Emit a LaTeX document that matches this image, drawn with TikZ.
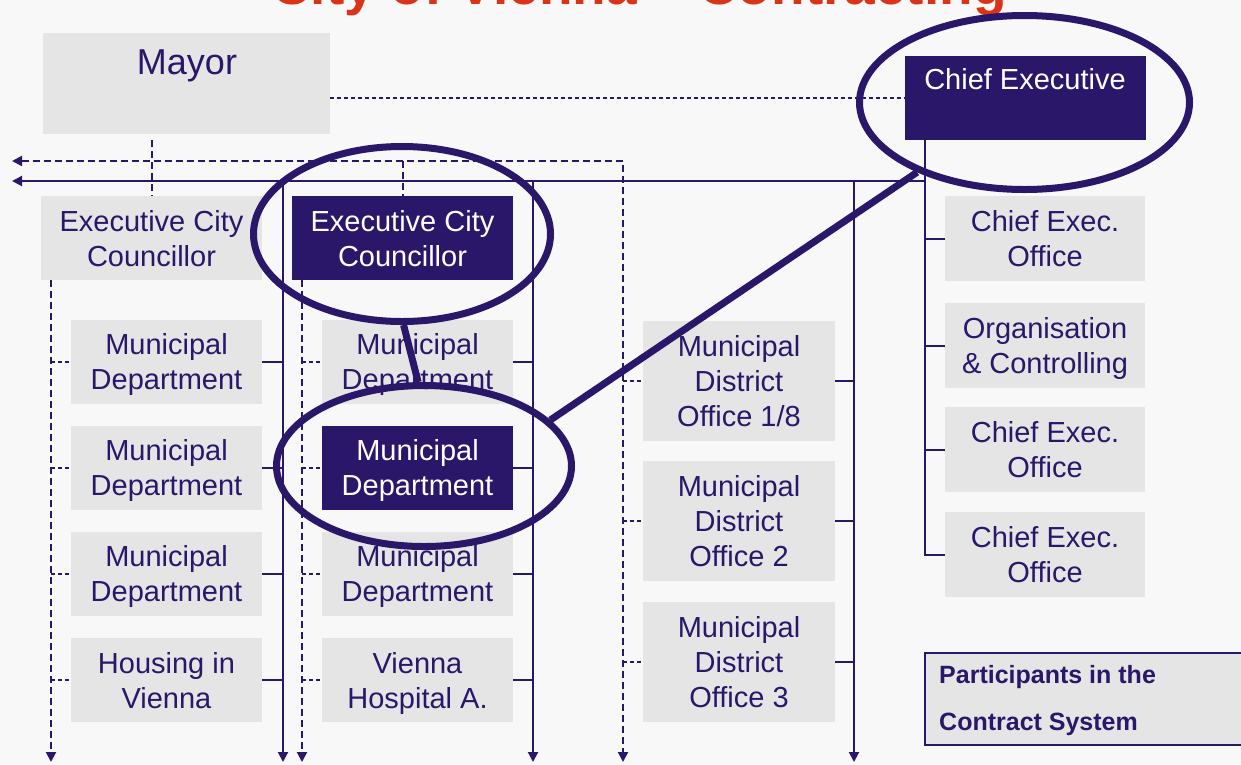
\documentclass[tikz,border=0pt]{standalone}
\usepackage{fontspec}
\setmainfont{Liberation Sans}
\usetikzlibrary{arrows.meta,shapes.geometric}
\definecolor{navy}{RGB}{42,23,106}
\definecolor{boxgrey}{RGB}{229,229,229}
\definecolor{bgcol}{RGB}{248,248,248}
\definecolor{titlered}{RGB}{218,52,24}
\newcommand\bxfont{\fontsize{29pt}{35pt}\selectfont}
\begin{document}
\begin{tikzpicture}[x=1pt,y=-1pt,
  gbox/.style={rectangle, fill=boxgrey, draw=none, inner sep=0pt, text=navy, align=center, font=\bxfont, text depth=0pt},
  nbox/.style={gbox, fill=navy, text=white},
  sol/.style={navy, line width=2pt},
  dsh/.style={navy, line width=2pt, dash pattern=on 7pt off 4pt},
  thindsh/.style={navy, line width=1.5pt, dash pattern=on 4pt off 3pt},
  arr/.style={-{Triangle[length=10pt,width=10pt]}},
  arrboth/.style={{Triangle[length=10pt,width=10pt]}-{Triangle[length=10pt,width=10pt]}},
  oval/.style={ellipse, draw=navy, line width=7pt, inner sep=0pt},
  link/.style={navy, line width=7pt}]
\useasboundingbox (0,0) rectangle (1241,764);
\clip (0,0) rectangle (1241,764);
\fill[bgcol] (0,0) rectangle (1241,764);

% title (cut off at top)
\node[font=\fontsize{55pt}{60pt}\selectfont\bfseries, text=titlered, anchor=base, inner sep=0pt] (title) at (639,4) {City of Vienna – Contracting};

% boxes
\node[gbox, minimum width=287, minimum height=101] (mayor) at (186.5,83.5) {};
\node[text=navy, font=\fontsize{36pt}{42pt}\selectfont, inner sep=0pt] (mayorT) at (187,66) {Mayor};
\node[nbox, minimum width=241, minimum height=84] (ce) at (1025.5,98) {};
\node[text=white, font=\bxfont, inner sep=0pt] (ceT) at (1025,79.5) {Chief Executive};

\node[gbox, minimum width=221, minimum height=84] (ecc1) at (151.5,238) {Executive City\\Councillor};
\node[nbox, minimum width=221, minimum height=84] (ecc2) at (402.5,238) {Executive City\\Councillor};

\node[gbox, minimum width=191, minimum height=84] (m11) at (166.5,361.5) {Municipal\\Department};
\node[gbox, minimum width=191, minimum height=84] (m12) at (166.5,467.5) {Municipal\\Department};
\node[gbox, minimum width=191, minimum height=84] (m13) at (166.5,573.5) {Municipal\\Department};
\node[gbox, minimum width=191, minimum height=84] (m14) at (166.5,680) {Housing in\\Vienna};

\node[gbox, minimum width=191, minimum height=84] (m21) at (417.5,361.5) {Municipal\\Department};
\node[nbox, minimum width=191, minimum height=84] (m22) at (417.5,467.5) {Municipal\\Department};
\node[gbox, minimum width=191, minimum height=84] (m23) at (417.5,573.5) {Municipal\\Department};
\node[gbox, minimum width=191, minimum height=84] (m24) at (417.5,680) {Vienna\\Hospital A.};

\node[gbox, minimum width=192, minimum height=120] (d1) at (739,381) {Municipal\\District\\Office 1/8};
\node[gbox, minimum width=192, minimum height=120] (d2) at (739,521) {Municipal\\District\\Office 2};
\node[gbox, minimum width=192, minimum height=120] (d3) at (739,662) {Municipal\\District\\Office 3};

\node[gbox, minimum width=200, minimum height=85] (c1) at (1045,238.5) {Chief Exec.\\Office};
\node[gbox, minimum width=200, minimum height=85] (c2) at (1045,345.5) {Organisation\\\& Controlling};
\node[gbox, minimum width=200, minimum height=85] (c3) at (1045,449.5) {Chief Exec.\\Office};
\node[gbox, minimum width=200, minimum height=85] (c4) at (1045,554.5) {Chief Exec.\\Office};

\node[rectangle, fill=boxgrey, draw=none, inner sep=0pt, minimum width=340, minimum height=92, anchor=north west] (legend) at (925,653) {};
\draw[sol] (legend.north east) -- (legend.north west) -- (legend.south west) -- (legend.south east);
\node[text=navy, font=\fontsize{25pt}{47pt}\selectfont\bfseries, align=left, anchor=west, inner sep=0pt] (legendT) at (939,701) {Participants in the\\Contract System};

% bus coordinates
\coordinate (dL) at (12,161);
\coordinate (dTop) at (623,161);
\coordinate (dBot) at (623,762);
\coordinate (sL) at (12,181);
\coordinate (sTop) at (925,181);
\coordinate (ceFoot) at (925,140);
\coordinate (mayFoot) at (151.5,140);
\coordinate (aBot) at (51,762);
\coordinate (bTop) at (283,181);
\coordinate (bBot) at (283,762);
\coordinate (cBot) at (302,762);
\coordinate (eTop) at (533,181);
\coordinate (eBot) at (533,762);
\coordinate (fTop) at (854,181);
\coordinate (fBot) at (854,762);

% dashed lines
\draw[thindsh] (mayor.east |- ce.west) -- (ce.west);
\draw[dsh] (mayFoot) -- (ecc1.north);
\draw[dsh, arrboth] (dL) -- (dTop) -- (dBot);
\draw[dsh] (ecc2.north |- dL) -- (ecc2.north);
\draw[dsh, arr] (aBot |- ecc1.south) -- (aBot);
\draw[dsh, arr] (cBot |- ecc2.south) -- (cBot);

% solid lines
\draw[sol, arr] (ceFoot) -- (sTop) -- (sL);
\draw[sol] (sTop) -- (sTop |- c4.west) -- (c4.west);
\foreach \n in {c1,c2,c3} \draw[sol] (sTop |- \n.west) -- (\n.west);
\draw[sol, arr] (bTop) -- (bBot);
\draw[sol, arr] (eTop) -- (eBot);
\draw[sol, arr] (fTop) -- (fBot);

% branches
\foreach \n in {m11,m12,m13,m14} {
  \draw[dsh, dash pattern=on 4pt off 3pt] (aBot |- \n.west) -- (\n.west);
  \draw[sol] (\n.east) -- (bTop |- \n.east);
}
\foreach \n in {m21,m22,m23,m24} {
  \draw[dsh, dash pattern=on 4pt off 3pt] (cBot |- \n.west) -- (\n.west);
  \draw[sol] (\n.east) -- (eTop |- \n.east);
}
\foreach \n in {d1,d2,d3} {
  \draw[dsh, dash pattern=on 4pt off 3pt] (dBot |- \n.west) -- (\n.west);
  \draw[sol] (\n.east) -- (fTop |- \n.east);
}

% highlight ovals
\node[oval, minimum width=297, minimum height=175] (e1) at (402,234) {};
\node[oval, minimum width=295, minimum height=161] (e2) at (424,466) {};
\node[oval, minimum width=330, minimum height=174] (e3) at (1024.5,102.5) {};
\draw[link] (e1.-89) -- (e2.94);
\draw[link] (e2.20) -- (e3.-147);
\end{tikzpicture}
\end{document}
